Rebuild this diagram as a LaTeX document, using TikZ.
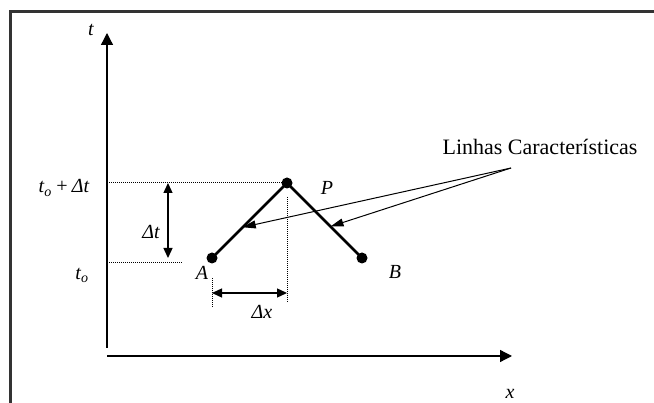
\documentclass[tikz,border=0pt]{standalone}
\usepackage{fontspec}
\setmainfont{Liberation Serif}
\usetikzlibrary{arrows.meta, calc}

\begin{document}
\begin{tikzpicture}[
    x=1pt, y=-1pt,
    axis_line/.style={line width=1.3pt, -{Triangle[length=12pt, width=12pt]}},
    char_line/.style={line width=2.6pt},
    grid_point/.style={circle, fill=black, inner sep=0pt, minimum size=11pt},
    dot_line/.style={line width=1pt, dash pattern=on 1pt off 1pt},
    delta_arrow/.style={line width=1.3pt, {Triangle[length=10pt, width=9pt]}-{Triangle[length=10pt, width=9pt]}},
    pointer/.style={line width=1pt, -{Triangle[length=13pt, width=8pt]}},
    lbl/.style={font=\fontsize{20}{24}\selectfont\itshape, inner sep=0pt}
]
    \useasboundingbox (0,0) rectangle (654,403);

    % Frame
    \draw[line width=3pt, black!80] (10,403) -- (10,12) -- (654,12);

    % Axes
    \coordinate (t_start) at (107,348);
    \coordinate (t_end) at (107,33);
    \coordinate (x_start) at (107,356);
    \coordinate (x_end) at (512,356);
    \draw[axis_line] (t_start) -- (t_end);
    \draw[axis_line] (x_start) -- (x_end);
    \node[lbl] (t_lbl) at (91,30) {t};
    \node[lbl] (x_lbl) at (510,394) {x};

    % Grid points
    \node[grid_point] (A) at (212,258) {};
    \node[grid_point] (P) at (287,183) {};
    \node[grid_point] (B) at (362,258) {};
    \node[lbl] (A_lbl) at (202,273) {A};
    \node[lbl] (P_lbl) at (327,188) {P};
    \node[lbl] (B_lbl) at (395,272) {B};

    % Characteristic lines
    \draw[char_line] (A.center) -- (P.center) -- (B.center);

    % Time levels
    \node[lbl] (top_lbl) at (64,188) {t\textsubscript{o}\,+\,Δt};
    \node[lbl] (low_lbl) at (82,275) {t\textsubscript{o}};
    \coordinate (top_left) at (109,183);
    \coordinate (low_left) at (109,263);
    \coordinate (low_right) at (183,263);
    \draw[dot_line] (top_left) -- (P);
    \draw[dot_line] (low_left) -- (low_right);

    % Delta t
    \coordinate (dt_top) at (168,183);
    \coordinate (dt_bot) at (168,258);
    \draw[delta_arrow] (dt_top) -- (dt_bot);
    \node[lbl] (dt_lbl) at (151,232) {Δt};

    % Delta x
    \coordinate (A_foot) at (212,308);
    \coordinate (P_foot) at (287,303);
    \draw[dot_line] (212,278) -- (A_foot);
    \draw[dot_line] (P) ++(0,14) -- (P_foot);
    \coordinate (dx_left) at (212,293);
    \coordinate (dx_right) at (287,293);
    \draw[delta_arrow] (dx_left) -- (dx_right);
    \node[lbl] (dx_lbl) at (262,312) {Δx};

    % Label with pointers
    \node[font=\fontsize{22}{26}\selectfont, inner sep=0pt] (char_lbl) at (540,147) {Linhas Características};
    \coordinate (src) at (511,168);
    \coordinate (tip_AP) at ($(A)!0.41!(P)$);
    \coordinate (tip_PB) at ($(P)!0.58!(B)$);
    \draw[pointer] (src) -- (tip_AP);
    \draw[pointer] (src) -- (tip_PB);

\end{tikzpicture}
\end{document}
